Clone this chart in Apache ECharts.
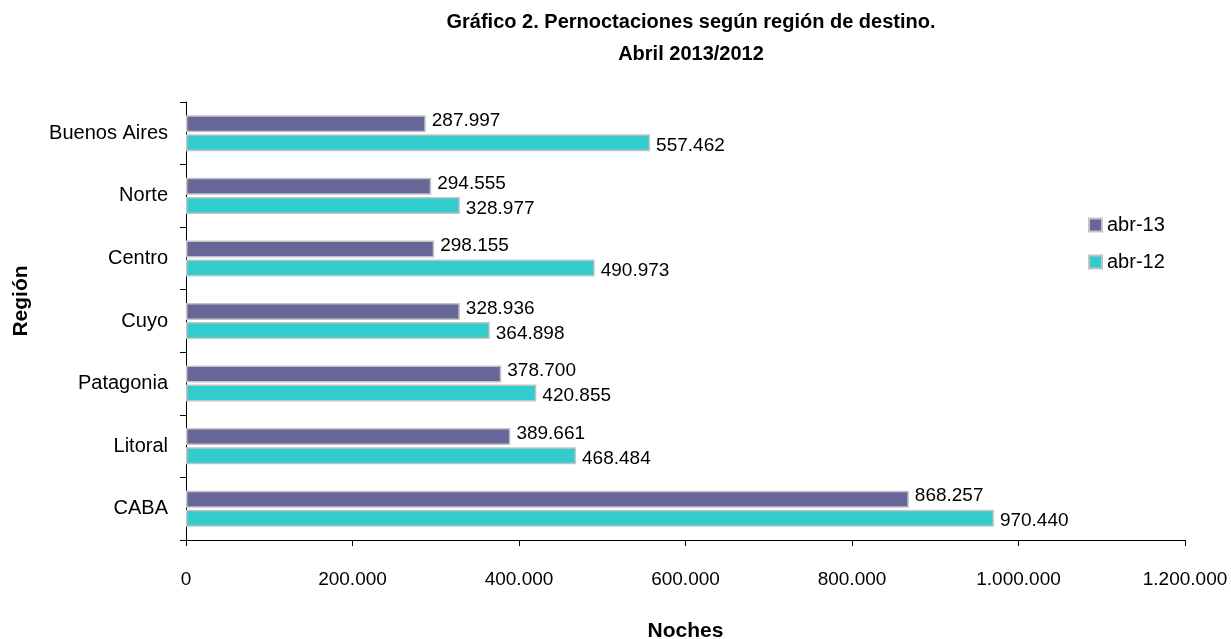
<!DOCTYPE html>
<html><head><meta charset="utf-8">
<script src="https://cdn.jsdelivr.net/npm/echarts@6/dist/echarts.min.js"></script>
<style>html,body{margin:0;padding:0;background:#fff}#c{width:1231px;height:639px}</style>
</head><body><div id="c"></div>
<script>
const categories = ['CABA', 'Litoral', 'Patagonia', 'Cuyo', 'Centro', 'Norte', 'Buenos Aires'];
const abr13 = [868257, 389661, 378700, 328936, 298155, 294555, 287997];
const abr12 = [970440, 468484, 420855, 364898, 490973, 328977, 557462];
const xTicks = [0, 200000, 400000, 600000, 800000, 1000000, 1200000];

function fmt(v) { return String(Math.round(v)).replace(/\B(?=(\d{3})+(?!\d))/g, '.'); }
const F = 'Liberation Sans';
const chart = echarts.init(document.getElementById('c'));
chart.setOption({
  animation: false,
  textStyle: { fontFamily: F },
  title: {
    text: 'Gráfico 2. Pernoctaciones según región de destino.\nAbril 2013/2012',
    left: 686, top: 1, textAlign: 'center',
    textStyle: { fontFamily: F, fontSize: 20, fontWeight: 'bold', color: '#000', lineHeight: 32 }
  },
  legend: {
    orient: 'vertical', left: 1083, top: 210, itemGap: 17,
    itemWidth: 13, itemHeight: 13, icon: 'rect',
    data: ['abr-13', 'abr-12'],
    textStyle: { fontFamily: F, fontSize: 20, color: '#000' }
  },
  graphic: [{
    type: 'text', x: 11, y: 301, rotation: Math.PI / 2,
    style: { text: 'Región', fontFamily: F, fontSize: 21, fontWeight: 'bold', fill: '#000', align: 'center', verticalAlign: 'top' }
  }],
  grid: { left: 186, right: 46, top: 102, bottom: 99, containLabel: false, outerBoundsMode: 'none' },
  xAxis: {
    type: 'value', min: 0, max: 1200000, interval: 200000,
    name: 'Noches', nameLocation: 'middle', nameGap: 81,
    nameTextStyle: { fontFamily: F, fontSize: 21, fontWeight: 'bold', color: '#000' },
    axisLine: { show: true, lineStyle: { color: '#000' } },
    axisTick: { show: true, length: 6, lineStyle: { color: '#000' } },
    splitLine: { show: false },
    axisLabel: { margin: 30, fontFamily: F, fontSize: 19, color: '#000', formatter: v => fmt(v) }
  },
  yAxis: {
    type: 'category', data: categories,
    axisLine: { show: true, lineStyle: { color: '#000' } },
    axisTick: { show: true, length: 6, lineStyle: { color: '#000' } },
    axisLabel: { margin: 18, fontFamily: F, fontSize: 20, color: '#000' }
  },
  series: [
    {
      name: 'abr-13', type: 'bar', data: abr13,
      barWidth: 17, barGap: '12%',
      itemStyle: { color: '#666699', borderColor: '#c4c4c4', borderWidth: 1.5 },
      label: { show: true, position: 'right', distance: 6, offset: [0, -3], fontFamily: F, fontSize: 19, color: '#000', formatter: p => fmt(p.value) }
    },
    {
      name: 'abr-12', type: 'bar', data: abr12,
      barWidth: 17,
      itemStyle: { color: '#33CCCC', borderColor: '#c4c4c4', borderWidth: 1.5 },
      label: { show: true, position: 'right', distance: 6, offset: [0, 3], fontFamily: F, fontSize: 19, color: '#000', formatter: p => fmt(p.value) }
    }
  ]
});
</script></body></html>
